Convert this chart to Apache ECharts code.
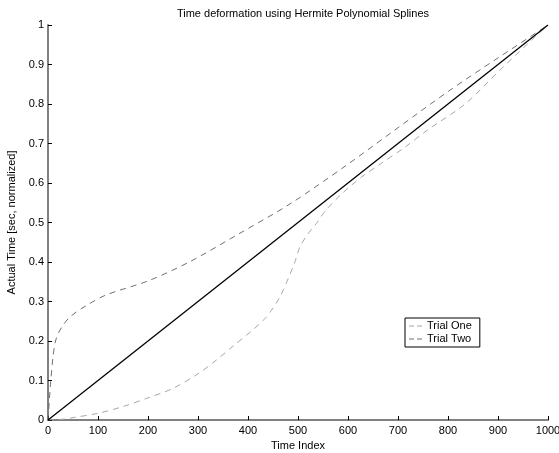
<!DOCTYPE html>
<html>
<head>
<meta charset="utf-8">
<script src="https://cdn.jsdelivr.net/npm/echarts@6/dist/echarts.min.js"></script>
<style>
  html, body { margin: 0; padding: 0; background: #fff; }
  #main { width: 559px; height: 453px; }
</style>
</head>
<body>
<div id="main"></div>
<script>
// values
var trialOneX = [0, 30, 50, 100, 150, 200, 250, 300, 337, 371, 404, 431, 447, 464, 481, 494, 504, 521, 537, 555, 587, 627, 667, 713, 760, 834, 904, 970, 1000];
var trialOneY = [0, 0.002, 0.006, 0.017, 0.034, 0.056, 0.08, 0.117, 0.152, 0.188, 0.222, 0.253, 0.278, 0.312, 0.36, 0.401, 0.439, 0.473, 0.498, 0.53, 0.572, 0.615, 0.65, 0.69, 0.735, 0.80, 0.886, 0.965, 1];
var trialTwoX = [0, 5, 10, 15, 21, 30, 45, 77, 117, 200, 284, 384, 484, 597, 700, 804, 904, 1000];
var trialTwoY = [0, 0.09, 0.16, 0.2, 0.22, 0.24, 0.262, 0.29, 0.317, 0.352, 0.401, 0.473, 0.547, 0.645, 0.74, 0.835, 0.92, 1];
var refX = [0, 1000];
var refY = [0, 1];

function pairs(xs, ys) {
  var out = [];
  for (var i = 0; i < xs.length; i++) out.push([xs[i], ys[i]]);
  return out;
}

var font = 'Liberation Sans, Arial, Helvetica, sans-serif';
var axisGray = '#808080';
var dashIcon = 'path://M0,0h5v1h-5z M8,0h5v1h-5z';

var chart = echarts.init(document.getElementById('main'));
var option = {
  animation: false,
  backgroundColor: '#fff',
  textStyle: { fontFamily: font },
  title: {
    text: 'Time deformation using Hermite Polynomial Splines',
    left: 298, top: 3, textAlign: 'center',
    textStyle: { fontSize: 11, fontWeight: 'normal', color: '#000', fontFamily: font }
  },
  grid: { left: 48, right: 11, top: 25, bottom: 33, outerBoundsMode: 'none', containLabel: false },
  legend: {
    left: 405, top: 318,
    orient: 'vertical',
    icon: dashIcon,
    itemWidth: 13, itemHeight: 1.2, itemGap: 1,
    padding: [2, 8, 2, 4],
    borderColor: '#000', borderWidth: 1,
    backgroundColor: '#fff',
    textStyle: { fontSize: 11, color: '#000', fontFamily: font, lineHeight: 12 },
    data: ['Trial One', 'Trial Two']
  },
  xAxis: {
    type: 'value', min: 0, max: 1000, interval: 100,
    name: 'Time Index', nameLocation: 'middle', nameGap: 18,
    nameTextStyle: { fontSize: 11, color: '#000' },
    axisLine: { show: true, lineStyle: { color: axisGray, width: 2 } },
    axisTick: { show: true, inside: true, length: 4, lineStyle: { color: '#000', width: 1 } },
    axisLabel: { fontSize: 11, color: '#000', margin: 5, showMaxLabel: true,
      formatter: function (v) { return String(v); } },
    splitLine: { show: false }
  },
  yAxis: {
    type: 'value', min: 0, max: 1, interval: 0.1,
    name: 'Actual Time [sec, normalized]', nameLocation: 'middle', nameGap: 26,
    nameTextStyle: { fontSize: 11, color: '#000' },
    axisLine: { show: true, lineStyle: { color: axisGray, width: 2 } },
    axisTick: { show: true, inside: true, length: 4, lineStyle: { color: '#000', width: 1 } },
    axisLabel: { fontSize: 11, color: '#000', margin: 4 },
    splitLine: { show: false }
  },
  series: [
    {
      name: 'Trial One', type: 'line', showSymbol: false, symbol: 'none',
      smooth: 0.3,
      data: pairs(trialOneX, trialOneY),
      lineStyle: { color: '#a8a8a8', width: 1, type: [6, 5] },
      itemStyle: { color: '#a8a8a8' }
    },
    {
      name: 'Trial Two', type: 'line', showSymbol: false, symbol: 'none',
      smooth: 0.3,
      data: pairs(trialTwoX, trialTwoY),
      lineStyle: { color: '#707070', width: 1, type: [6, 5] },
      itemStyle: { color: '#707070' }
    },
    {
      name: 'Reference', type: 'line', showSymbol: false, symbol: 'none',
      data: pairs(refX, refY),
      lineStyle: { color: '#000', width: 1.3 },
      itemStyle: { color: '#000' }
    }
  ]
};
chart.setOption(option);
</script>
</body>
</html>
